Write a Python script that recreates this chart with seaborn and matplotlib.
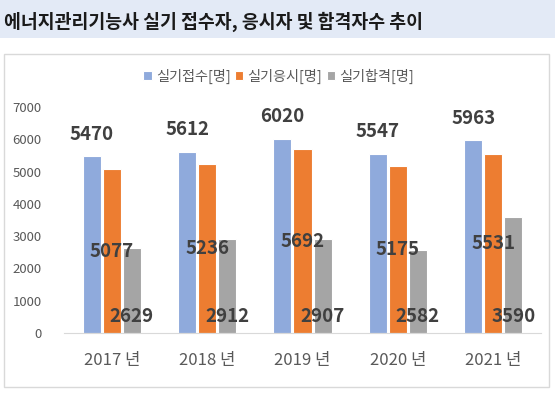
import matplotlib
matplotlib.use("Agg")
import matplotlib.pyplot as plt
from matplotlib.patches import Rectangle
import pandas as pd
import seaborn as sns

# data
years = ["2017 년", "2018 년", "2019 년", "2020 년", "2021 년"]
series = ["실기접수[명]", "실기응시[명]", "실기합격[명]"]
applied = [5470, 5612, 6020, 5547, 5963]
tested = [5077, 5236, 5692, 5175, 5531]
passed = [2629, 2912, 2907, 2582, 3590]
colors = ["#8FAADC", "#ED7D31", "#A5A5A5"]

df = pd.DataFrame({
    "year": years * 3,
    "series": [series[0]] * 5 + [series[1]] * 5 + [series[2]] * 5,
    "value": applied + tested + passed,
})

sns.set_style("white")
plt.rcParams["font.family"] = ["Noto Sans CJK KR", "DejaVu Sans"]

fig = plt.figure(figsize=(5.55, 3.98), dpi=100)
fig.patch.set_facecolor("white")

# title band and chart frame
fig.patches.append(Rectangle((0, 0.9045), 1, 0.0955, transform=fig.transFigure,
                             facecolor="#E3EAF6", edgecolor="none", zorder=-1))
fig.patches.append(Rectangle((0.0072, 0.0276), 0.982, 0.8367, transform=fig.transFigure,
                             facecolor="none", edgecolor="#D9D9D9", lw=1, zorder=-1))
fig.text(0.008, 0.945, "에너지관리기능사 실기 접수자, 응시자 및 합격자수 추이",
         fontsize=13.2, fontweight="bold", color="#1A1A1A", va="center", ha="left")

ax = fig.add_axes([0.1153, 0.1633, 0.8595, 0.5679])
ax.patch.set_alpha(0)
sns.barplot(data=df, x="year", y="value", hue="series", palette=colors, saturation=1,
            width=0.63, gap=0.1, edgecolor="white", linewidth=0.8, ax=ax)

ax.set_ylim(0, 7000)
ax.set_xlim(-0.5, 4.5)
ax.set_yticks(range(0, 7001, 1000))
ax.set_xlabel("")
ax.set_ylabel("")
for s in ["top", "right", "left"]:
    ax.spines[s].set_visible(False)
ax.spines["bottom"].set_color("#D9D9D9")
ax.tick_params(axis="y", length=0, labelsize=9.5, labelcolor="#595959", pad=16)
ax.tick_params(axis="x", length=0, labelsize=12, labelcolor="#595959", pad=14)

# data labels: outside end / center / inside base
lab_kw = dict(fontsize=13.5, fontweight="bold", color="#404040", ha="center", va="center",
              textcoords="offset points")
for i, cont in enumerate(ax.containers):
    for bar in cont:
        xc = bar.get_x() + bar.get_width() / 2
        h = bar.get_height()
        if i == 0:
            ax.annotate(f"{h:.0f}", (xc, h), xytext=(0, 16), **lab_kw)
        elif i == 1:
            ax.annotate(f"{h:.0f}", (xc, h / 2), xytext=(0, 0), **lab_kw)
        else:
            ax.annotate(f"{h:.0f}", (xc, 0), xytext=(0, 12), **lab_kw)

handles, labels = ax.get_legend_handles_labels()
ax.legend(handles, labels, loc="center", bbox_to_anchor=(0.45, 1.137), ncol=3,
          frameon=False, fontsize=10.2, handlelength=0.6, handleheight=0.6,
          handletextpad=0.3, columnspacing=0.3, labelcolor="#595959")

fig.savefig("out.png", dpi=100)
